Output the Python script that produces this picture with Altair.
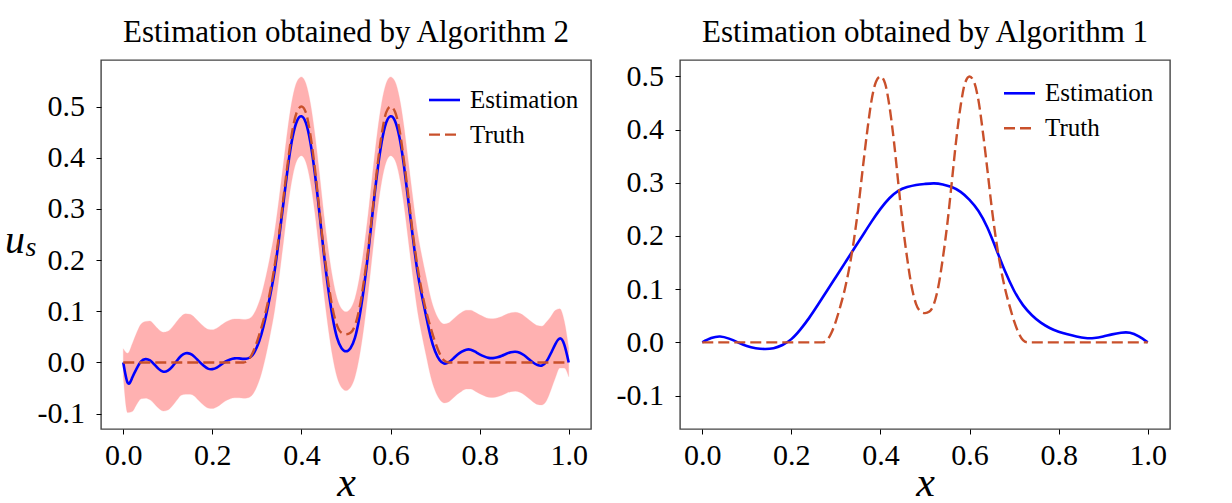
import altair as alt
import pandas as pd

# ---- data -------------------------------------------------------------
x_fine = [round(i * 0.01, 2) for i in range(101)]
x_coarse = [round(i * 0.02, 2) for i in range(51)]

truth = [
    0.0, 0.0, 0.0, 0.0, 0.0, 0.0, 0.0, 0.0, 0.0, 0.0,
    0.0, 0.0, 0.0, 0.0, 0.0, 0.0, 0.0, 0.0, 0.0, 0.0,
    0.0, 0.0, 0.0, 0.0, 0.0, 0.0, 0.0, 0.0, 0.004, 0.018,
    0.040, 0.068, 0.100, 0.140, 0.190, 0.252, 0.325, 0.395, 0.455, 0.490,
    0.500, 0.488, 0.445, 0.380, 0.300, 0.222, 0.158, 0.105, 0.072, 0.058,
    0.055, 0.058, 0.072, 0.105, 0.158, 0.222, 0.300, 0.380, 0.445, 0.488,
    0.500, 0.490, 0.455, 0.395, 0.325, 0.252, 0.190, 0.140, 0.100, 0.068,
    0.040, 0.018, 0.004, 0.0, 0.0, 0.0, 0.0, 0.0, 0.0, 0.0,
    0.0, 0.0, 0.0, 0.0, 0.0, 0.0, 0.0, 0.0, 0.0, 0.0,
    0.0, 0.0, 0.0, 0.0, 0.0, 0.0, 0.0, 0.0, 0.0, 0.0,
    0.0,
]

# Algorithm 2: posterior mean and credible band
est_alg2 = [
    0.000, -0.040, -0.030, -0.012, 0.002, 0.0065, 0.004, -0.004, -0.013, -0.018,
    -0.016, -0.008, 0.003, 0.013, 0.018, 0.017, 0.011, 0.002, -0.006, -0.012,
    -0.013, -0.010, -0.004, 0.002, 0.006, 0.008, 0.008, 0.007, 0.008, 0.014,
    0.030, 0.055, 0.090, 0.132, 0.180, 0.245, 0.315, 0.385, 0.440, 0.472,
    0.481, 0.468, 0.430, 0.370, 0.295, 0.215, 0.145, 0.088, 0.048, 0.028,
    0.022, 0.028, 0.048, 0.088, 0.145, 0.215, 0.295, 0.370, 0.430, 0.468,
    0.481, 0.472, 0.440, 0.385, 0.315, 0.245, 0.180, 0.132, 0.090, 0.050,
    0.022, 0.005, -0.002, 0.000, 0.007, 0.015, 0.021, 0.025, 0.025, 0.021,
    0.016, 0.012, 0.009, 0.0085, 0.010, 0.013, 0.017, 0.020, 0.021, 0.019,
    0.014, 0.007, 0.000, -0.005, -0.006, 0.002, 0.018, 0.036, 0.047, 0.035,
    0.000,
]
band_upper = [
    0.027, 0.018, 0.036, 0.058, 0.075, 0.080, 0.081, 0.073, 0.064, 0.059,
    0.061, 0.069, 0.080, 0.090, 0.095, 0.094, 0.088, 0.079, 0.071, 0.065,
    0.064, 0.067, 0.073, 0.079, 0.083, 0.085, 0.085, 0.084, 0.085, 0.091,
    0.107, 0.132, 0.167, 0.209, 0.257, 0.322, 0.392, 0.462, 0.517, 0.549,
    0.558, 0.545, 0.507, 0.447, 0.372, 0.292, 0.222, 0.165, 0.125, 0.105,
    0.099, 0.105, 0.125, 0.165, 0.222, 0.292, 0.372, 0.447, 0.507, 0.545,
    0.558, 0.549, 0.517, 0.462, 0.392, 0.322, 0.257, 0.209, 0.167, 0.127,
    0.099, 0.082, 0.075, 0.077, 0.084, 0.092, 0.098, 0.102, 0.102, 0.098,
    0.093, 0.089, 0.086, 0.0855, 0.087, 0.090, 0.094, 0.097, 0.098, 0.096,
    0.091, 0.084, 0.077, 0.072, 0.071, 0.079, 0.090, 0.102, 0.105, 0.081,
    0.028,
]
band_lower = [
    -0.027, -0.098, -0.096, -0.082, -0.071, -0.070, -0.073, -0.081, -0.090, -0.095,
    -0.093, -0.085, -0.074, -0.064, -0.062, -0.062, -0.066, -0.075, -0.083, -0.089,
    -0.090, -0.087, -0.081, -0.075, -0.071, -0.069, -0.069, -0.070, -0.069, -0.063,
    -0.047, -0.022, 0.013, 0.055, 0.103, 0.168, 0.238, 0.308, 0.363, 0.395,
    0.404, 0.391, 0.353, 0.293, 0.218, 0.138, 0.068, 0.011, -0.029, -0.049,
    -0.055, -0.049, -0.029, 0.011, 0.068, 0.138, 0.218, 0.293, 0.353, 0.391,
    0.404, 0.395, 0.363, 0.308, 0.238, 0.168, 0.103, 0.055, 0.013, -0.027,
    -0.055, -0.072, -0.079, -0.077, -0.070, -0.062, -0.056, -0.052, -0.052, -0.056,
    -0.061, -0.065, -0.068, -0.0685, -0.067, -0.064, -0.060, -0.057, -0.056, -0.058,
    -0.063, -0.070, -0.077, -0.082, -0.083, -0.075, -0.054, -0.030, -0.011, -0.011,
    -0.028,
]

# Algorithm 1: point estimate
est_alg1 = [
    0.000, 0.008, 0.011, 0.007, 0.000, -0.007, -0.011, -0.0125, -0.011, -0.005,
    0.006, 0.024, 0.046, 0.071, 0.097, 0.123, 0.149, 0.175, 0.201, 0.227,
    0.251, 0.271, 0.285, 0.292, 0.296, 0.298, 0.299, 0.297, 0.292, 0.283,
    0.268, 0.247, 0.216, 0.175, 0.133, 0.097, 0.070, 0.051, 0.037, 0.027,
    0.020, 0.015, 0.011, 0.008, 0.008, 0.011, 0.015, 0.018, 0.018, 0.011,
    0.000,
]

x_ticks = [0.0, 0.2, 0.4, 0.6, 0.8, 1.0]
y_ticks = [-0.1, 0.0, 0.1, 0.2, 0.3, 0.4, 0.5]

# ---- styling ----------------------------------------------------------
SERIF = "Liberation Serif, Times New Roman, DejaVu Serif, serif"
BLUE = "#0000ff"
TRUTH_RED = "#c9502b"
BAND_RED = "#ff0000"
PANEL_W, PANEL_H = 490, 369

label_expr = ("datum.value < 0 ? '-' + format(-datum.value, '.1f') "
              ": format(datum.value, '.1f')")

fine_df = pd.DataFrame({
    "x": x_fine, "truth": truth, "est": est_alg2,
    "upper": band_upper, "lower": band_lower,
})
coarse_df = pd.DataFrame({"x": x_coarse, "est": est_alg1})
one_row = pd.DataFrame({"k": [0]})


def x_enc():
    return alt.X(
        "x:Q",
        scale=alt.Scale(domain=[-0.05, 1.05], nice=False, zero=False),
        axis=alt.Axis(
            values=x_ticks, format=".1f", title="x",
            titleFont=SERIF, titleFontSize=42, titleFontStyle="italic",
            titleFontWeight="normal", titleColor="black",
            titleBaseline="alphabetic", titleY=66,
            labelBaseline="alphabetic", labelPadding=30.5,
        ),
    )


def y_enc(field, domain):
    return alt.Y(
        f"{field}:Q",
        scale=alt.Scale(domain=domain, nice=False, zero=False),
        axis=alt.Axis(values=y_ticks, labelExpr=label_expr, title=None,
                      labelPadding=11.5),
    )


def legend_layers(y_est, y_truth, x0):
    base = alt.Chart(one_row)
    est_line = base.mark_rule(color=BLUE, strokeWidth=2.6).encode(
        x=alt.value(x0), x2=alt.value(x0 + 31), y=alt.value(y_est))
    truth_line = base.mark_rule(color=TRUTH_RED, strokeWidth=2.4,
                                strokeDash=[11, 5]).encode(
        x=alt.value(x0), x2=alt.value(x0 + 31), y=alt.value(y_truth))
    est_txt = base.mark_text(text="Estimation", align="left", baseline="middle",
                             font=SERIF, fontSize=25, color="black").encode(
        x=alt.value(x0 + 41), y=alt.value(y_est))
    truth_txt = base.mark_text(text="Truth", align="left", baseline="middle",
                               font=SERIF, fontSize=25, color="black").encode(
        x=alt.value(x0 + 41), y=alt.value(y_truth))
    return [est_line, truth_line, est_txt, truth_txt]


def panel_title(text):
    return alt.TitleParams(text, font=SERIF, fontSize=31, fontWeight="normal",
                           color="black", anchor="middle",
                           baseline="alphabetic", offset=-13)


# ---- left panel: Algorithm 2 ------------------------------------------
dom_left = [-0.130, 0.591]
band = alt.Chart(fine_df).mark_area(
    color=BAND_RED, opacity=0.3, interpolate="monotone",
    stroke=BAND_RED, strokeOpacity=0.25, strokeWidth=1,
).encode(x=x_enc(), y=y_enc("lower", dom_left), y2="upper:Q")

est2 = alt.Chart(fine_df).mark_line(
    color=BLUE, strokeWidth=2.6, interpolate="natural",
).encode(x=x_enc(), y=y_enc("est", dom_left))

truth_l = alt.Chart(fine_df).mark_line(
    color=TRUTH_RED, strokeWidth=2.4, strokeDash=[11, 5], interpolate="monotone",
).encode(x=x_enc(), y=y_enc("truth", dom_left))

u_txt = alt.Chart(one_row).mark_text(
    text="u", font=SERIF, fontSize=40, fontStyle="italic", align="center",
    baseline="alphabetic", color="black",
).encode(x=alt.value(-86), y=alt.value(193))
s_txt = alt.Chart(one_row).mark_text(
    text="s", font=SERIF, fontSize=28, fontStyle="italic", align="center",
    baseline="alphabetic", color="black",
).encode(x=alt.value(-70), y=alt.value(196))

left = alt.layer(
    band, est2, truth_l, *legend_layers(40, 74.6, 328), u_txt, s_txt,
).properties(width=PANEL_W, height=PANEL_H,
             title=panel_title("Estimation obtained by Algorithm 2"))

# ---- right panel: Algorithm 1 -----------------------------------------
dom_right = [-0.163, 0.531]
est1 = alt.Chart(coarse_df).mark_line(
    color=BLUE, strokeWidth=2.6, interpolate="natural",
).encode(x=x_enc(), y=y_enc("est", dom_right))

truth_r = alt.Chart(fine_df).mark_line(
    color=TRUTH_RED, strokeWidth=2.4, strokeDash=[11, 5], interpolate="monotone",
).encode(x=x_enc(), y=y_enc("truth", dom_right))

right = alt.layer(
    est1, truth_r, *legend_layers(33.3, 68.3, 324),
).properties(width=PANEL_W, height=PANEL_H,
             title=panel_title("Estimation obtained by Algorithm 1"))

chart = alt.hconcat(left, right, spacing=23).resolve_scale(
    x="independent", y="independent"
).configure_view(
    stroke="#444444", strokeWidth=1.4,
).configure_axis(
    domain=False, grid=False, ticks=True, tickSize=5, tickWidth=1,
    tickColor="black", labelFont=SERIF, labelFontSize=30, labelColor="black",
).properties(
    background="white",
    padding={"left": 4, "top": 16, "right": 10, "bottom": 24},
)

chart.save("out.html", embed_options={"renderer": "svg", "actions": False})
